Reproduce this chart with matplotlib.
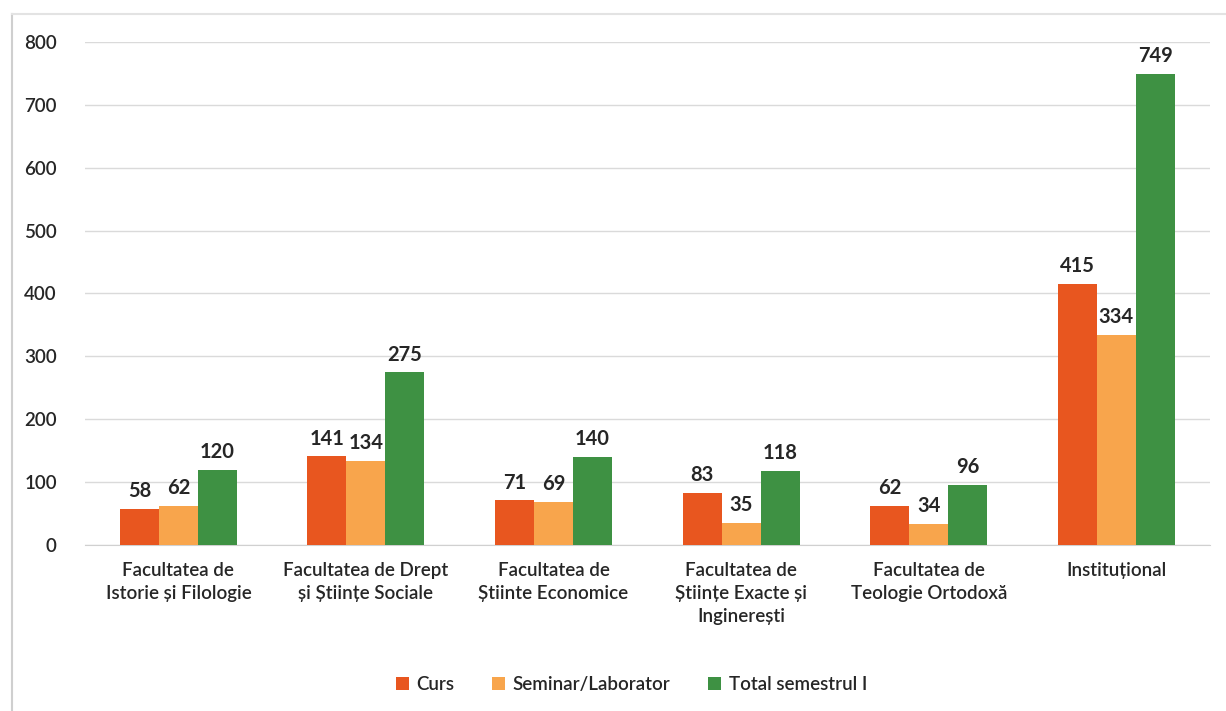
import numpy as np
import matplotlib.pyplot as plt
from matplotlib.lines import Line2D

categories = ["Facultatea de\nIstorie și Filologie",
              "Facultatea de Drept\nși Științe Sociale",
              "Facultatea de\nȘtiinte Economice",
              "Facultatea de\nȘtiințe Exacte și\nInginerești",
              "Facultatea de\nTeologie Ortodoxă",
              "Instituțional"]
curs = [58, 141, 71, 83, 62, 415]
seminar = [62, 134, 69, 35, 34, 334]
total = [120, 275, 140, 118, 96, 749]
series_names = ["Curs", "Seminar/Laborator", "Total semestrul I"]
colors = ["#E8561F", "#F8A54C", "#3E9143"]

plt.rcParams['font.family'] = ['Lato', 'DejaVu Sans']

fig = plt.figure(figsize=(12.26, 7.11), dpi=100)
ax = fig.add_axes([0.069, 0.2335, 0.918, 0.7075])

x = np.arange(len(categories))
w = 0.208
for i, (vals, name, c) in enumerate(zip([curs, seminar, total], series_names, colors)):
    bars = ax.bar(x + (i - 1) * w, vals, w, color=c, label=name, zorder=3)
    for b, v in zip(bars, vals):
        ax.text(b.get_x() + b.get_width() / 2, v + 12, str(v), ha="center", va="bottom",
                fontsize=14.5, fontweight="bold", color="#262626", zorder=4)

ax.set_xlim(-0.5, len(categories) - 0.5)
ax.set_ylim(0, 800)
ax.set_yticks(range(0, 801, 100))
ax.yaxis.grid(True, color="#DADADA", linewidth=1, zorder=0)
for s in ax.spines.values():
    s.set_visible(False)
ax.spines["bottom"].set_visible(True)
ax.spines["bottom"].set_color("#D0D0D0")
ax.tick_params(axis="both", length=0, labelsize=13.5, colors="#262626")
ax.tick_params(axis="y", pad=20)
ax.set_xticks(x)
ax.set_xticklabels(categories, fontsize=13.5, linespacing=1.45)
ax.tick_params(axis="x", pad=12)
for lab in ax.get_xticklabels() + ax.get_yticklabels():
    lab.set_fontweight("semibold")

leg = fig.legend(loc="center", bbox_to_anchor=(0.515, 0.037), ncol=3, frameon=False,
                 fontsize=13.5, handlelength=0.7, handleheight=0.7, handletextpad=0.4,
                 columnspacing=2.0)
for t in leg.get_texts():
    t.set_fontweight("semibold")
    t.set_color("#262626")

# thin frame at left and top
fig.add_artist(Line2D([0.0098, 0.0098], [0, 0.981], color="#CFCFCF", lw=1.5))
fig.add_artist(Line2D([0.0098, 1], [0.981, 0.981], color="#E3E3E3", lw=1.5))

fig.savefig("out.png", dpi=100)
